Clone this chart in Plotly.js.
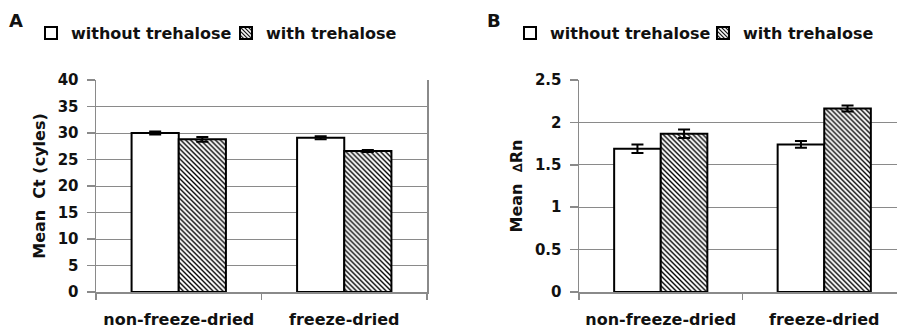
<!DOCTYPE html>
<html>
<head>
<meta charset="utf-8">
<script src="https://cdn.plot.ly/plotly-3.0.1.min.js"></script>
<style>html,body{margin:0;padding:0;background:#fff;}#chart{width:897px;height:330px;}</style>
</head>
<body>
<div id="chart"></div>
<script>
var categories = ["non-freeze-dried", "freeze-dried"];
var seriesNames = ["without trehalose", "with trehalose"];
var ctWithout = [30.0, 29.1];
var ctWithoutErr = [0.3, 0.3];
var ctWith = [28.8, 26.6];
var ctWithErr = [0.45, 0.2];
var rnWithout = [1.69, 1.74];
var rnWithoutErr = [0.05, 0.04];
var rnWith = [1.865, 2.165];
var rnWithErr = [0.05, 0.035];
var ctTicks = [0, 5, 10, 15, 20, 25, 30, 35, 40];
var rnTicks = [0, 0.5, 1, 1.5, 2, 2.5];

var FONT = "DejaVu Sans, Arial, sans-serif";
var GRAY = "#8a8a8a";
var INK = "#111";

function barTrace(name, x, y, err, hatched, xa, ya, lg) {
  var marker = {color: "white", line: {color: "black", width: 2}};
  if (hatched) {
    marker.pattern = {shape: "\\", fgcolor: "black", bgcolor: "white", size: 3.5, solidity: 0.4};
  }
  return {
    type: "bar", name: name, x: x, y: y,
    xaxis: xa, yaxis: ya, legend: lg, showlegend: true,
    marker: marker,
    error_y: {type: "data", array: err, visible: true, color: "black", thickness: 2, width: 6}
  };
}

var data = [
  barTrace(seriesNames[0], categories, ctWithout, ctWithoutErr, false, "x", "y", "legend"),
  barTrace(seriesNames[1], categories, ctWith, ctWithErr, true, "x", "y", "legend"),
  barTrace(seriesNames[0], categories, rnWithout, rnWithoutErr, false, "x2", "y2", "legend2"),
  barTrace(seriesNames[1], categories, rnWith, rnWithErr, true, "x2", "y2", "legend2")
];

var W = 897, H = 330;
var yTop = 1 - 80 / H, yBot = 1 - 292 / H;

function xAxis(domain, range) {
  return {
    domain: domain, type: "category", range: range,
    tickson: "boundaries", ticks: "outside", ticklen: 6, tickcolor: GRAY, tickwidth: 1.5,
    showline: true, linecolor: GRAY, linewidth: 1.5,
    showgrid: false, zeroline: false, fixedrange: true,
    ticklabelstandoff: 12,
    tickfont: {family: FONT, size: 16, color: INK, weight: "bold"}
  };
}
function yAxis(domain, range, ticks, anchor, title, mirror) {
  return {
    domain: domain, range: range, anchor: anchor,
    tickmode: "array", tickvals: ticks, ticktext: ticks.map(String),
    ticks: "outside", ticklen: 8, tickcolor: GRAY, tickwidth: 1.5,
    showline: true, linecolor: GRAY, linewidth: 1.5, mirror: mirror,
    showgrid: true, gridcolor: GRAY, gridwidth: 1,
    zeroline: false, fixedrange: true,
    ticklabelstandoff: 5,
    tickfont: {family: FONT, size: 15, color: INK, weight: "bold"},
    title: {text: title, font: {family: FONT, size: 16, color: INK, weight: "bold"}, standoff: 8}
  };
}

function legendBox(xpx, ew) {
  return {orientation: "h", x: xpx / W, xanchor: "left", y: 1 - 33 / H, yanchor: "middle",
          font: {family: FONT, size: 16, color: INK, weight: "bold"}, bgcolor: "rgba(0,0,0,0)",
          itemwidth: 30, entrywidth: ew, entrywidthmode: "pixels"};
}

var layout = {
  width: W, height: H,
  margin: {l: 0, r: 0, t: 0, b: 0, autoexpand: false},
  paper_bgcolor: "white", plot_bgcolor: "white",
  barmode: "group", bargap: 0.43, bargroupgap: 0,
  font: {family: FONT, color: INK},
  xaxis: xAxis([96 / W, 427 / W], [-0.5, 1.5]),
  yaxis: yAxis([yBot, yTop], [0, 40], ctTicks, "x", "Mean  Ct (cyles)", true),
  xaxis2: xAxis([579 / W, 1], [-0.5, 1.445]),
  yaxis2: yAxis([yBot, yTop], [0, 2.5], rnTicks, "x2", "Mean  <span style='font-size:13px'>∆</span>Rn", false),
  legend: legendBox(31, 150),
  legend2: legendBox(510, 148),
  annotations: [
    {text: "A", x: 7 / W, y: 1 - 21 / H, xref: "paper", yref: "paper", xanchor: "left", yanchor: "middle", showarrow: false,
     font: {family: FONT, size: 18, color: INK, weight: "bold"}},
    {text: "B", x: 485 / W, y: 1 - 21 / H, xref: "paper", yref: "paper", xanchor: "left", yanchor: "middle", showarrow: false,
     font: {family: FONT, size: 18, color: INK, weight: "bold"}}
  ]
};

Plotly.newPlot("chart", data, layout, {displayModeBar: false, staticPlot: true});
</script>
</body>
</html>
